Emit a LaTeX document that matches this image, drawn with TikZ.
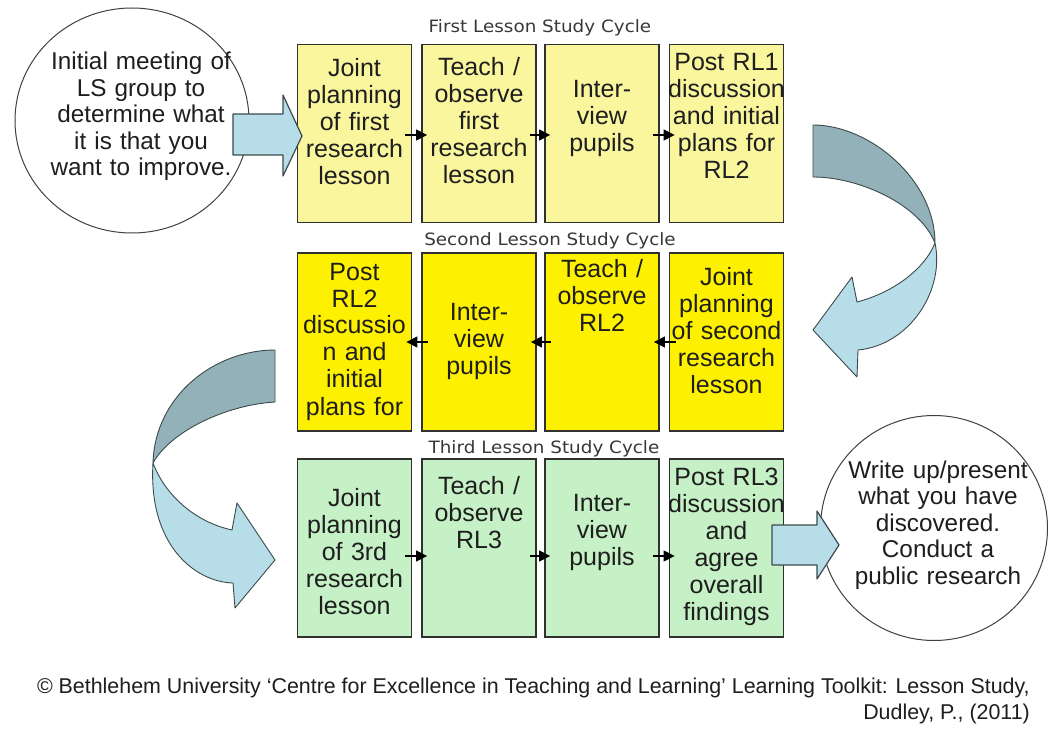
\documentclass[tikz,border=0pt]{standalone}
\usepackage{fontspec}
\setmainfont{Liberation Sans}
\newfontfamily\titlefont{DejaVu Sans}
\usetikzlibrary{arrows.meta,shapes.geometric}
\definecolor{rowA}{HTML}{FAF69E}
\definecolor{rowB}{HTML}{FDF100}
\definecolor{rowC}{HTML}{C6F0C6}
\definecolor{rib}{HTML}{B7DDE8}
\definecolor{ribdark}{HTML}{93B1B8}
\definecolor{ribline}{HTML}{3C4A4E}
\definecolor{boxline}{HTML}{303030}
\definecolor{txt}{HTML}{1E1E1E}
\definecolor{ttl}{HTML}{383838}
\begin{document}
\begin{tikzpicture}[x=1pt,y=-1pt,
  stagebox/.style={draw=boxline, line width=1.8pt, minimum width=114pt, minimum height=178pt, inner sep=0pt},
  boxtext/.style={text=txt, font=\fontsize{25}{27}\selectfont, text width=130pt, align=center, inner sep=0pt, anchor=base},
  circtext/.style={text=txt, font=\fontsize{24.3}{26.5}\selectfont, text width=220pt, align=center, inner sep=0pt, anchor=base},
  bubble/.style={ellipse, draw=black!75, line width=1pt, fill=white, inner sep=0pt},
  cycletitle/.style={text=ttl, font=\titlefont\fontsize{17}{19}\selectfont, inner sep=0pt, anchor=base},
  flow/.style={draw=black, line width=1.1pt, -{Triangle[length=11pt,width=11pt]}},
  ribbon/.style={draw=ribline, line width=0.9pt, line join=round, fill=rib},
  ribbonback/.style={ribbon, fill=ribdark},
  foot/.style={text=txt, font=\fontsize{21.4}{26}\selectfont, inner sep=0pt, anchor=base east},
]
\useasboundingbox (0,0) rectangle (1050,738);
\fill[white] (0,0) rectangle (1050,738);

% circles
\node[bubble, minimum width=234pt, minimum height=225pt] (c1) at (132,120.5) {};
\node[bubble, minimum width=227pt, minimum height=225pt] (c2) at (934,528) {};

% boxes row 1
\node[stagebox, fill=rowA] (b11) at (354.5,133.5) {};
\node[stagebox, fill=rowA] (b12) at (479,133.5) {};
\node[stagebox, fill=rowA] (b13) at (602,133.5) {};
\node[stagebox, fill=rowA] (b14) at (726.5,133.5) {};
% row 2
\node[stagebox, fill=rowB] (b21) at (354.5,342) {};
\node[stagebox, fill=rowB] (b22) at (479,342) {};
\node[stagebox, fill=rowB] (b23) at (602,342) {};
\node[stagebox, fill=rowB] (b24) at (726.5,342) {};
% row 3
\node[stagebox, fill=rowC] (b31) at (354.5,548) {};
\node[stagebox, fill=rowC] (b32) at (479,548) {};
\node[stagebox, fill=rowC] (b33) at (602,548) {};
\node[stagebox, fill=rowC] (b34) at (726.5,548) {};

% small arrows
\draw[flow] ([xshift=-7pt,yshift=-1.5pt]b11.east) -- ([xshift=6pt,yshift=-1.5pt]b12.west);
\draw[flow] ([xshift=-7pt,yshift=-1.5pt]b12.east) -- ([xshift=6pt,yshift=-1.5pt]b13.west);
\draw[flow] ([xshift=-7pt,yshift=-1.5pt]b13.east) -- ([xshift=6pt,yshift=-1.5pt]b14.west);
\draw[flow] ([xshift=7pt]b24.west) -- ([xshift=-6pt]b23.east);
\draw[flow] ([xshift=7pt]b23.west) -- ([xshift=-6pt]b22.east);
\draw[flow] ([xshift=7pt]b22.west) -- ([xshift=-6pt]b21.east);
\draw[flow] ([xshift=-7pt,yshift=-8pt]b31.east) -- ([xshift=6pt,yshift=-8pt]b32.west);
\draw[flow] ([xshift=-7pt,yshift=-8pt]b32.east) -- ([xshift=6pt,yshift=-8pt]b33.west);
\draw[flow] ([xshift=-7pt,yshift=-8pt]b33.east) -- ([xshift=6pt,yshift=-8pt]b34.west);

% block arrows
\draw[ribbon, line width=1.2pt] (233,114) -- (283,114) -- (283,95) -- (302,136) -- (283,176) -- (283,155) -- (233,155) -- cycle;
\draw[ribbon, line width=1.2pt] (772,525) -- (817,525) -- (817,511) -- (839,545) -- (817,579) -- (817,565) -- (772,565) -- cycle;

% curved ribbon arrows
\draw[ribbonback] (813,125) .. controls (870,125) and (935,180) .. (935,243) .. controls (920,205) and (860,177) .. (813,177) -- cycle;
\draw[ribbon] (935,243) .. controls (945,290) and (910,345) .. (858,350) -- (857,377) -- (813,330) -- (852,277) -- (857,302) .. controls (895,292) and (925,268) .. (935,243) -- cycle;
\draw[ribbonback] (275,350) .. controls (215,350) and (155,395) .. (153,463) .. controls (170,432) and (225,405) .. (275,402) -- cycle;
\draw[ribbon] (153,463) .. controls (148,545) and (195,582) .. (233,583) -- (235,608) -- (275,560) -- (237,503) -- (232,530) .. controls (195,522) and (165,495) .. (153,463) -- cycle;

% titles
\node[cycletitle] (t1) at (540,33) {\scalebox{1.08}[1]{First Lesson Study Cycle}};
\node[cycletitle] (t2) at (550,246) {\scalebox{1.08}[1]{Second Lesson Study Cycle}};
\node[cycletitle] (t3) at (544,453) {\scalebox{1.08}[1]{Third Lesson Study Cycle}};

% box texts row 1
\node[boxtext] (x11) at (b11.center |- 0,77) {Joint\\planning\\of first\\research\\lesson};
\node[boxtext] (x12) at (b12.center |- 0,76) {Teach /\\observe\\first\\research\\lesson};
\node[boxtext] (x13) at (b13.center |- 0,98) {Inter-\\view\\pupils};
\node[boxtext] (x14) at (b14.center |- 0,71) {Post RL1\\discussion\\and initial\\plans for\\RL2};
% row 2
\node[boxtext] (x21) at (b21.center |- 0,280) {Post\\RL2\\discussio\\n and\\initial\\plans for};
\node[boxtext] (x22) at (b22.center |- 0,320) {Inter-\\view\\pupils};
\node[boxtext] (x23) at (b23.center |- 0,278) {Teach /\\observe\\RL2};
\node[boxtext] (x24) at (b24.center |- 0,286) {Joint\\planning\\of second\\research\\lesson};
% row 3
\node[boxtext] (x31) at (b31.center |- 0,506) {Joint\\planning\\of 3rd\\research\\lesson};
\node[boxtext] (x32) at (b32.center |- 0,494) {Teach /\\observe\\RL3};
\node[boxtext] (x33) at (b33.center |- 0,511) {Inter-\\view\\pupils};
\node[boxtext] (x34) at (b34.center |- 0,485) {Post RL3\\discussion\\and\\agree\\overall\\findings};

% circle texts
\node[circtext] (y1) at (141,70) {Initial meeting of\\LS group to\\determine what\\it is that you\\want to improve.};
\node[circtext] (y2) at (938,478) {Write up/present\\what you have\\discovered.\\Conduct a\\public research};

% footer
\node[foot] (f1) at (1030,693) {© Bethlehem University ‘Centre for Excellence in Teaching and Learning’ Learning Toolkit: Lesson Study,};
\node[foot] (f2) at (1030,719) {Dudley, P., (2011)};
\end{tikzpicture}
\end{document}
